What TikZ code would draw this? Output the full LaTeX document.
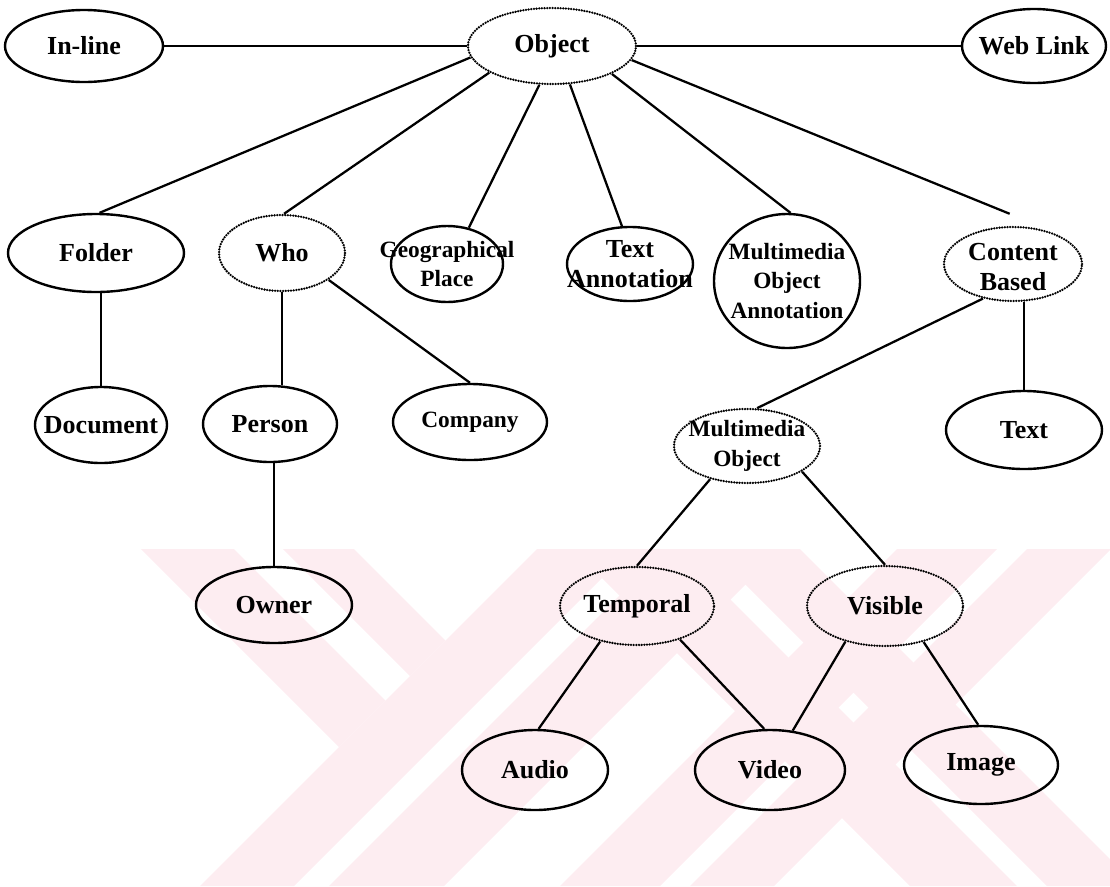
\documentclass[tikz,border=0pt]{standalone}
\usepackage{fontspec}
\setmainfont{Liberation Serif}
\usetikzlibrary{shapes.geometric}
\definecolor{wm}{RGB}{253,237,241}
\begin{document}
\begin{tikzpicture}[x=0.75pt,y=-0.75pt,
  el/.style 2 args={ellipse, inner sep=0pt, minimum width=#1*1.5pt, minimum height=#2*1.5pt},
  solidE/.style={draw, line width=1.8pt},
  dotE/.style={draw, line width=1.9pt, line cap=round, dash pattern=on 0pt off 2.0pt},
  lbl/.style={font=\bfseries\fontsize{19.5}{22.5}\selectfont, align=center, inner sep=0pt},
  lbls/.style={font=\bfseries\fontsize{17.5}{22}\selectfont, align=center, inner sep=0pt},
  conn/.style={line width=1.7pt},
  thinconn/.style={line width=0.8pt},
  wmark/.style={fill=wm}]
\useasboundingbox (0,0) rectangle (1110,886);
% watermark
\begin{scope}
\clip (0,549) rectangle (1110,886);
\path[wmark] (141,549) -- (234,549) -- (385.5,700.5) -- (339,747) -- cycle;
\path[wmark] (283,549) -- (354,549) -- (445.5,640.5) -- (410,676) -- cycle;
\path[wmark] (537,549) -- (631,549) -- (294,886) -- (200,886) -- cycle;
\path[wmark] (666,549) -- (781,549) -- (444,886) -- (329,886) -- cycle;
\path[wmark] (573,549) -- (680,549) -- (1017,886) -- (910,886) -- cycle;
\path[wmark] (710,549) -- (800,549) -- (1137,886) -- (1047,886) -- cycle;
\path[wmark] (897,549) -- (997,549) -- (660,886) -- (560,886) -- cycle;
\path[wmark] (1027,549) -- (1111,549) -- (774,886) -- (690,886) -- cycle;
\end{scope}
% nodes
\node[el={79}{36}, solidE] (inl) at (84,46) {};
\node[el={84}{38}, dotE] (obj) at (552,46) {};
\node[el={72}{37}, solidE] (web) at (1034,46) {};
\node[el={88}{39}, solidE] (folder) at (96,253) {};
\node[el={63}{38}, dotE] (who) at (282,253) {};
\node[el={56}{38}, solidE] (geo) at (447,264) {};
\node[el={63}{37}, solidE] (ta) at (630,264) {};
\node[el={73}{67}, solidE] (moa) at (787,281) {};
\node[el={69}{37}, dotE] (cb) at (1013,264) {};
\node[el={66}{38}, solidE] (doc) at (101,425) {};
\node[el={67}{38}, solidE] (person) at (270,424) {};
\node[el={77}{38}, solidE] (comp) at (470,422) {};
\node[el={73}{37}, dotE] (mo) at (747,446) {};
\node[el={78}{39}, solidE] (txt) at (1024,430) {};
\node[el={78}{38}, solidE] (owner) at (274,605) {};
\node[el={77}{39}, dotE] (temp) at (637,606) {};
\node[el={78}{40}, dotE] (vis) at (885,606) {};
\node[el={73}{40}, solidE] (audio) at (535,770) {};
\node[el={75}{40}, solidE] (video) at (770,770) {};
\node[el={77}{39}, solidE] (image) at (981,765) {};
% labels
\node[lbl] (inlT) at (inl) {In-line};
\node[lbl] (objT) at (obj) {Object};
\node[lbl] (webT) at (web) {Web Link};
\node[lbl] (folderT) at (folder) {Folder};
\node[lbl] (whoT) at (who) {Who};
\node[lbls] (geoT) at (geo) {Geographical\\Place};
\node[lbl] (taT) at (ta) {Text\\Annotation};
\node[lbls] (moaT) at (moa) {Multimedia\\Object\\Annotation};
\node[lbl] (cbT) at ([yshift=-2pt]cb) {Content\\Based};
\node[lbl] (docT) at (doc) {Document};
\node[lbl] (personT) at (person) {Person};
\node[lbls] (compT) at (comp) {Company};
\node[lbls] (moT) at (mo) {Multimedia\\Object};
\node[lbl] (txtT) at (txt) {Text};
\node[lbl] (ownerT) at (owner) {Owner};
\node[lbl] (tempT) at (temp) {Temporal};
\node[lbl] (visT) at (vis) {Visible};
\node[lbl] (audioT) at (audio) {Audio};
\node[lbl] (videoT) at (video) {Video};
\node[lbl] (imageT) at (image) {Image};
% connectors
\draw[conn] (inl) -- (obj);
\draw[conn] (obj) -- (web);
\draw[conn] (obj.188) -- (folder.85);
\draw[conn] (obj.203) -- (who.87);
\draw[conn] (obj.252) -- (geo.59);
\draw[conn] (obj.295) -- (ta.102);
\draw[conn] (obj.335) -- (moa.87);
\draw[conn] (obj.350) -- ([yshift=9pt]cb.95);
\draw[conn] (folder.south -| doc.north) -- (doc.north);
\draw[conn] (who.south) -- (who.south |- person.north);
\draw[conn] (who.330) -- (comp.north);
\draw[conn] (cb.229) -- (mo.75);
\draw[conn] (txt.north |- cb.south) -- (txt.north);
\draw[thinconn] (person.south -| owner.north) -- (owner.north);
\draw[conn] (mo.222) -- (temp.north);
\draw[conn] (mo.335) -- (vis.north);
\draw[conn] (temp.224) -- (audio.85);
\draw[conn] (temp.322) -- (video.98);
\draw[conn] (vis.222) -- (video.60);
\draw[conn] (vis.317) -- (image.94);
\end{tikzpicture}
\end{document}
